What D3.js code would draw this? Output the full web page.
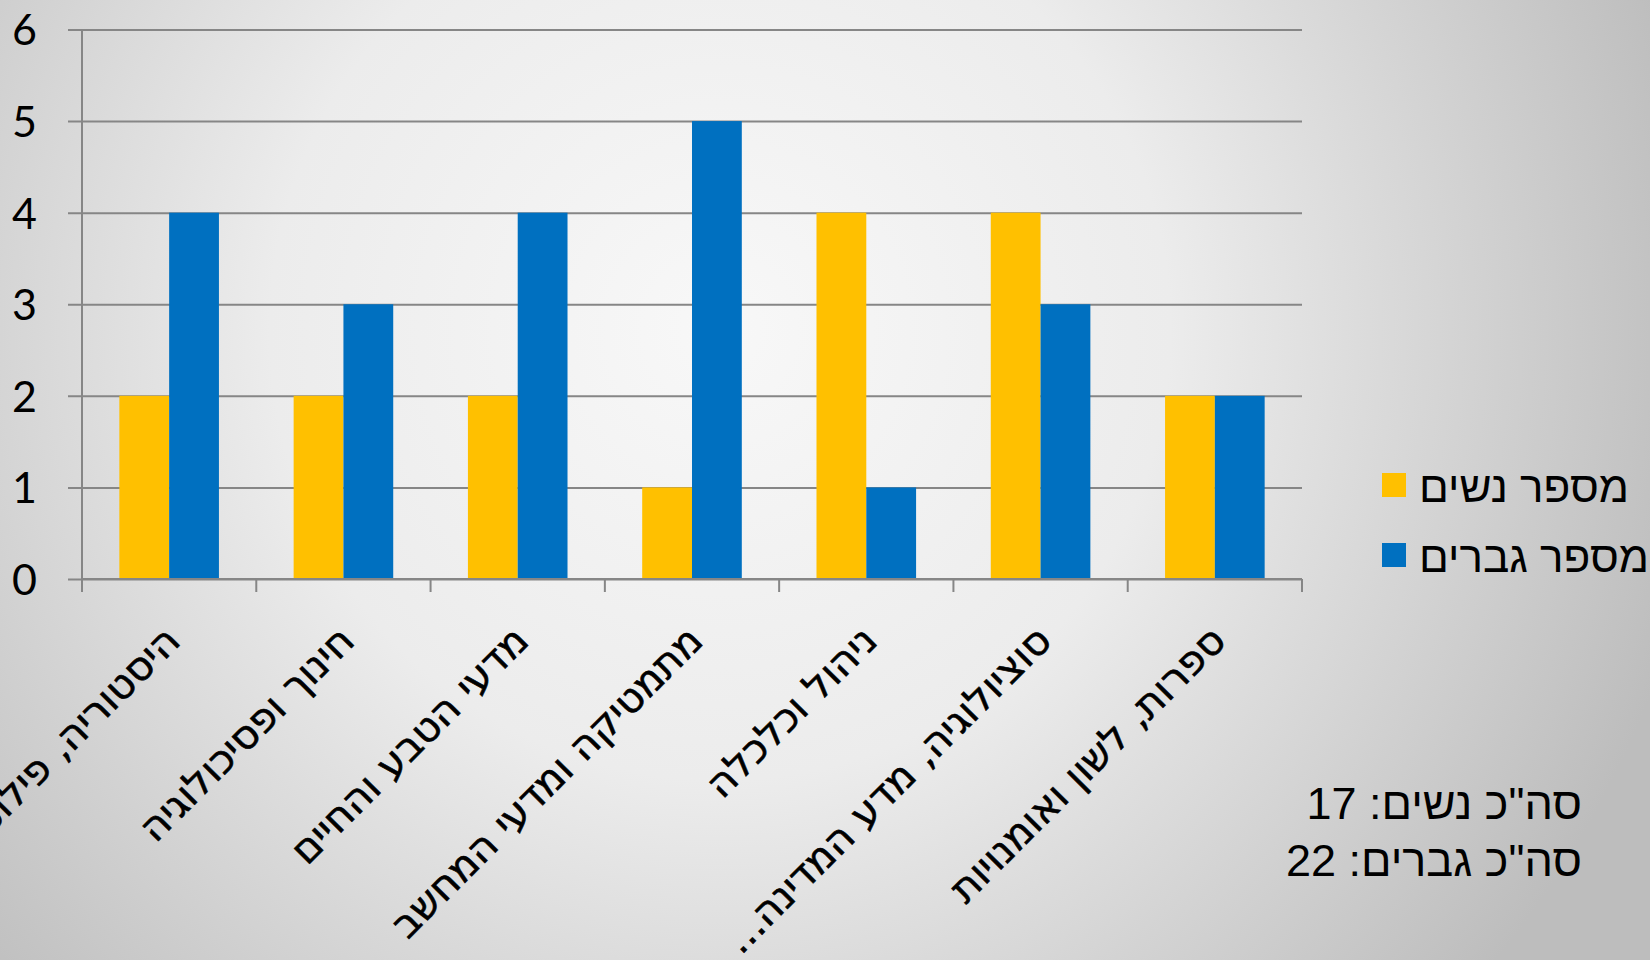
<!DOCTYPE html>
<html>
<head>
<meta charset="utf-8">
<script src="https://cdn.jsdelivr.net/npm/d3@7"></script>
<style>
	html, body { margin: 0; padding: 0; overflow: hidden; }
	svg { display: block; }
</style>
</head>
<body>
<div id="chart"></div>
<script>

// categories, read right off the slide
const categories = [
	"היסטוריה, פילוסופיה",
	"חינוך ופסיכולוגיה",
	"מדעי הטבע והחיים",
	"מתמטיקה ומדעי המחשב",
	"ניהול וכלכלה",
	"סוציולוגיה, מדע המדינה...",
	"ספרות, לשון ואומנויות"
];

const seriesNames = ["מספר נשים", "מספר גברים"];
const women = [2, 2, 2, 1, 4, 4, 2];
const men = [4, 3, 4, 5, 1, 3, 2];
const yTickValues = [0, 1, 2, 3, 4, 5, 6];

const 	width = 1650,
		height = 960,
		plotLeft = 82,
		plotRight = 1302,
		plotTop = 29.5,
		plotBottom = 579,
		gridColor = '#868686',
		colors = ['#FFC000', '#0070C0'];

const rows = categories.map((c, i) => ({ cat: c, values: [women[i], men[i]] }));

const svg = d3.select('#chart').append('svg')
	.attr('width', width)
	.attr('height', height);

// background - light in the middle, greyer toward the edges
const defs = svg.append('defs');
const grad = defs.append('radialGradient')
	.attr('id', 'bg')
	.attr('gradientUnits', 'userSpaceOnUse')
	.attr('cx', 720).attr('cy', 330)
	.attr('r', 1000);
grad.append('stop').attr('offset', '0%').attr('stop-color', '#f8f8f8');
grad.append('stop').attr('offset', '45%').attr('stop-color', '#ececec');
grad.append('stop').attr('offset', '100%').attr('stop-color', '#bdbdbd');

svg.append('rect')
	.attr('width', width)
	.attr('height', height)
	.attr('fill', 'url(#bg)');

// scales
const x = d3.scaleBand()
	.domain(categories)
	.range([plotLeft, plotRight]);

// gap width 150% -> two bars plus 1.5 bar of space
const x1 = d3.scaleBand()
	.domain(d3.range(seriesNames.length))
	.range([0, x.bandwidth()])
	.paddingOuter(0.75);

const y = d3.scaleLinear()
	.domain([0, 6])
	.range([plotBottom, plotTop]);

// y axis with full width gridlines (ticks run left of the axis line too)
const yAxis = svg.append('g')
	.attr('transform', `translate(${plotRight},0)`)
	.call(d3.axisLeft(y)
		.tickValues(yTickValues)
		.tickSize(plotRight - 68)
		.tickPadding(31)
		.tickFormat(d3.format('d')));

yAxis.select('.domain').remove();
yAxis.selectAll('.tick line')
	.attr('stroke', gridColor)
	.attr('stroke-width', 2);
yAxis.selectAll('.tick text')
	.attr('fill', '#000')
	.attr('dy', '0.36em')
	.style('font-family', 'Lato, "Open Sans", sans-serif')
	.style('font-size', '43px');

// vertical axis line
svg.append('line')
	.attr('x1', plotLeft).attr('x2', plotLeft)
	.attr('y1', y(6)).attr('y2', y(0))
	.attr('stroke', gridColor)
	.attr('stroke-width', 2);

// bars
const groups = svg.append('g')
	.selectAll('g')
	.data(rows)
	.enter().append('g')
	.attr('transform', d => `translate(${x(d.cat)},0)`);

groups.selectAll('rect')
	.data(d => d.values)
	.enter().append('rect')
	.attr('x', (d, i) => x1(i))
	.attr('width', x1.bandwidth())
	.attr('y', d => y(d))
	.attr('height', d => y(0) - y(d))
	.attr('fill', (d, i) => colors[i]);

// x axis line on top of the bars
svg.append('line')
	.attr('x1', plotLeft).attr('x2', plotRight)
	.attr('y1', y(0)).attr('y2', y(0))
	.attr('stroke', gridColor)
	.attr('stroke-width', 2);

// category boundary ticks
const bounds = categories.map(c => x(c)).concat([plotRight]);
svg.append('g')
	.selectAll('line')
	.data(bounds)
	.enter().append('line')
	.attr('x1', d => d).attr('x2', d => d)
	.attr('y1', y(0)).attr('y2', y(0) + 13)
	.attr('stroke', gridColor)
	.attr('stroke-width', 2);

// category labels, rotated 45deg, right end sits under the band centre
// (a thin stroke to get closer to the heavier slide font)
svg.append('g')
	.selectAll('text')
	.data(categories)
	.enter().append('text')
	.attr('transform', d => `translate(${x(d) + x.bandwidth() / 2 + 13},${y(0) + 64})rotate(-45)`)
	.attr('direction', 'rtl')
	.attr('text-anchor', 'start')
	.style('font-family', '"DejaVu Sans", sans-serif')
	.style('font-size', '40px')
	.attr('fill', '#000')
	.attr('stroke', '#000')
	.attr('stroke-width', 0.6)
	.text(d => d);

// legend
const legend = svg.append('g')
	.selectAll('g')
	.data(seriesNames)
	.enter().append('g')
	.attr('transform', (d, i) => `translate(1382,${473 + i * 70})`);

legend.append('rect')
	.attr('width', 24)
	.attr('height', 24)
	.attr('fill', (d, i) => colors[i]);

legend.append('text')
	.attr('x', 37)
	.attr('y', 29)
	.attr('direction', 'rtl')
	.attr('text-anchor', 'end')
	.style('font-family', '"Liberation Sans", Arial, sans-serif')
	.style('font-size', '44px')
	.attr('fill', '#000')
	.text(d => d);

// totals
const totals = [
	`סה"כ נשים: ${d3.sum(women)}`,
	`סה"כ גברים: ${d3.sum(men)}`
];

svg.append('g')
	.selectAll('text')
	.data(totals)
	.enter().append('text')
	.attr('x', 1582)
	.attr('y', (d, i) => 819 + i * 57)
	.attr('direction', 'rtl')
	.attr('text-anchor', 'start')
	.style('font-family', '"Liberation Sans", Arial, sans-serif')
	.style('font-size', '45px')
	.attr('fill', '#000')
	.text(d => d);

</script>
</body>
</html>
